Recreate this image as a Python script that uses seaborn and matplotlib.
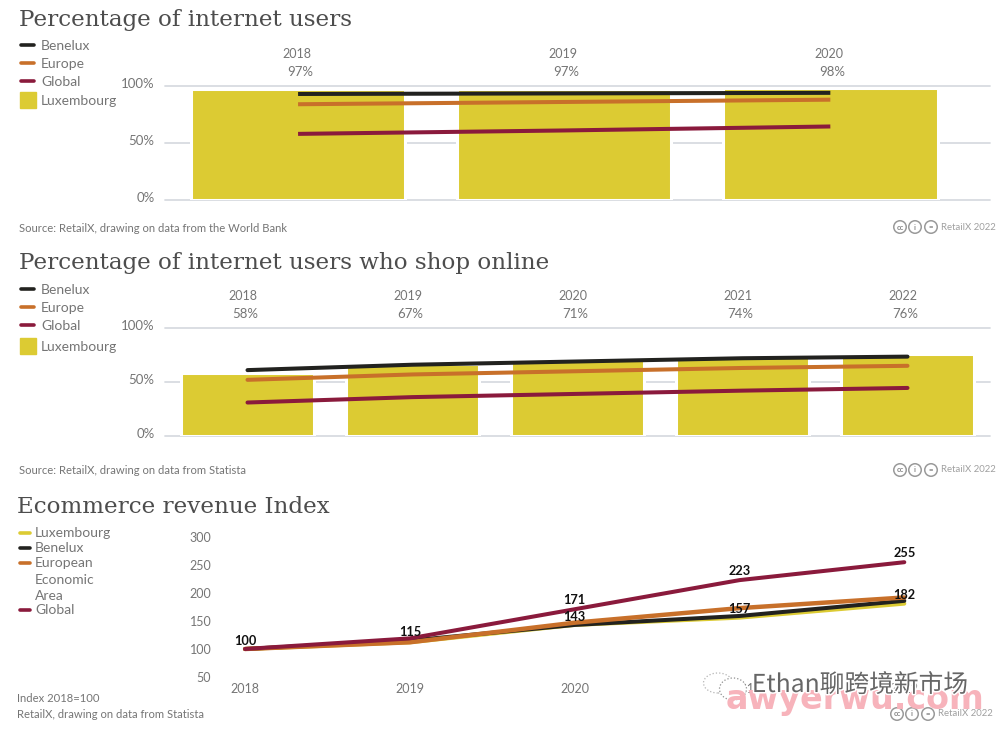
import matplotlib
matplotlib.use("Agg")
import matplotlib.pyplot as plt
import matplotlib.patheffects as pe
from matplotlib.patches import Ellipse, Rectangle
from matplotlib.transforms import ScaledTranslation
import pandas as pd
import seaborn as sns

SANS = ["Lato", "DejaVu Sans"]
SERIF = ["DejaVu Serif"]

YELLOW = "#dccb33"
BLACK = "#22221f"
ORANGE = "#c8702a"
RED = "#8a1a3c"
GREY = "#757575"
GRID = "#d8dbe0"
TITLE = "#4d4d4d"

# chart 1
users_years = ["2018", "2019", "2020"]
users_lux = [97, 97, 98]
users_benelux = [93, 93.5, 94]
users_europe = [84, 86, 88]
users_global = [58, 61, 64.5]

# chart 2
shop_years = ["2018", "2019", "2020", "2021", "2022"]
shop_lux = [58, 67, 71, 74, 76]
shop_benelux = [61, 66, 69, 72, 73.5]
shop_europe = [52, 57, 60, 63, 65]
shop_global = [31, 36, 39, 42, 44.5]

# chart 3
rev_years = ["2018", "2019", "2020", "2021", "2022"]
rev_lux = [100, 112, 143, 156, 181]
rev_benelux = [100, 115, 143, 159, 186]
rev_eea = [100, 112, 147, 173, 192]
rev_global = [100, 119, 171, 223, 255]
rev_labels = [(0, 100, 104), (1, 115, 119), (2, 171, 177), (2, 143, 146),
              (3, 223, 228), (3, 157, 161), (4, 255, 261), (4, 182, 185)]


def px_axes(fig, left, right, top, bottom):
    return fig.add_axes([left / 1000, 1 - bottom / 730, (right - left) / 1000, (bottom - top) / 730])


def ftext(fig, x, y, s, **kw):
    kw.setdefault("family", SANS)
    kw.setdefault("color", GREY)
    kw.setdefault("va", "center")
    return fig.text(x / 1000, 1 - y / 730, s, **kw)


def legend_key(fig, x0, x1, y, color, lw=2.6):
    fig.add_artist(plt.Line2D([x0 / 1000, x1 / 1000], [1 - y / 730] * 2, color=color, lw=lw, solid_capstyle="round"))


def bubble(fig, x, y, w, h, **kw):
    fig.add_artist(Ellipse((x / 1000, 1 - y / 730), w / 1000, h / 730, transform=fig.transFigure, **kw))


def bar_panel(fig, ax, years, lux, lines, xlim, cap, year_dx, pct_dx):
    df = pd.DataFrame({"year": years, "lux": lux})
    sns.barplot(data=df, x="year", y="lux", color=YELLOW, saturation=1, width=0.806, ax=ax, zorder=2,
                edgecolor="white", linewidth=2.2)
    for values, color in lines:
        sns.lineplot(x=list(range(len(years))), y=values, color=color, lw=2.9, ax=ax, zorder=3, errorbar=None,
                     solid_capstyle=cap)
    ax.set_xlim(*xlim)
    ax.set_ylim(0, 100)
    ax.set_yticks([0, 50, 100], ["0%", "50%", "100%"])
    ax.set_xticks([])
    ax.set_xlabel("")
    ax.set_ylabel("")
    ax.grid(axis="y", color=GRID, lw=1.3)
    for gl in ax.get_ygridlines():
        gl.set_clip_on(False)
    ax.set_axisbelow(True)
    ax.tick_params(axis="y", length=0, labelsize=9.5, labelcolor=GREY, pad=7.5)
    up = ScaledTranslation(0, 3 / 100, fig.dpi_scale_trans)
    for lab in ax.get_yticklabels():
        lab.set_family(SANS)
        lab.set_transform(lab.get_transform() + up)
    for side in ax.spines.values():
        side.set_visible(False)
    ax.patch.set_alpha(0)
    for i, (year, val) in enumerate(zip(years, lux)):
        ax.annotate(year, (i, 100), xytext=(year_dx, 23), textcoords="offset points", ha="center", va="center",
                    color=GREY, fontsize=9, family=SANS, annotation_clip=False)
        ax.annotate(f"{val}%", (i, 100), xytext=(pct_dx, 10), textcoords="offset points", ha="center", va="center",
                    color=GREY, fontsize=9.5, family=SANS, annotation_clip=False)


def cc_badge(fig, y, dx=0):
    for x, s in zip([900, 915, 931], ["cc", "i", "="]):
        bubble(fig, x + dx, y, 12.5, 12.5, fc="white", ec="#9a9a9a", lw=1.1)
        ftext(fig, x + dx, y, s, fontsize=5.5, ha="center", color="#8a8a8a", fontweight="bold")
    ftext(fig, 968 + dx, y, "RetailX 2022", fontsize=6.9, ha="center", color="#a0a0a0")


def main():
    sns.set_theme(style="white")
    plt.rcParams["font.family"] = SANS
    fig = plt.figure(figsize=(10, 7.3), dpi=100)

    # top panel
    ftext(fig, 19, 20, "Percentage of internet users", family=SERIF, fontsize=16.6, color=TITLE)
    for y, name, color in [(45, "Benelux", BLACK), (63, "Europe", ORANGE), (81, "Global", RED)]:
        legend_key(fig, 21, 34, y, color)
        ftext(fig, 41, y + 1, name, fontsize=10)
    fig.add_artist(Rectangle((20 / 1000, 1 - 108 / 730), 16 / 1000, 16 / 730, color=YELLOW, transform=fig.transFigure))
    ftext(fig, 41, 101, "Luxembourg", fontsize=10)
    ax1 = px_axes(fig, 165, 990, 86, 200)
    bar_panel(fig, ax1, users_years, users_lux,
              [(users_benelux, BLACK), (users_europe, ORANGE), (users_global, RED)], (-0.5, 2.6), "butt", -0.7, 1.5)
    ftext(fig, 19, 228, "Source: RetailX, drawing on data from the World Bank", fontsize=8.1)
    cc_badge(fig, 227)

    # middle panel
    ftext(fig, 19, 263, "Percentage of internet users who shop online", family=SERIF, fontsize=16.6, color=TITLE)
    for y, name, color in [(289, "Benelux", BLACK), (307, "Europe", ORANGE), (325, "Global", RED)]:
        legend_key(fig, 21, 34, y, color)
        ftext(fig, 41, y + 1, name, fontsize=10)
    fig.add_artist(Rectangle((20 / 1000, 1 - 354 / 730), 16 / 1000, 16 / 730, color=YELLOW, transform=fig.transFigure))
    ftext(fig, 41, 347, "Luxembourg", fontsize=10)
    ax2 = px_axes(fig, 165, 990, 328, 436)
    bar_panel(fig, ax2, shop_years, shop_lux,
              [(shop_benelux, BLACK), (shop_europe, ORANGE), (shop_global, RED)], (-0.5, 4.5), "round", -3.6, -1.5)
    ftext(fig, 19, 471, "Source: RetailX, drawing on data from Statista", fontsize=8.1)
    cc_badge(fig, 470)

    # bottom panel
    ftext(fig, 17, 507, "Ecommerce revenue Index", family=SERIF, fontsize=16.6, color=TITLE)
    for y, name, color in [(533, "Luxembourg", YELLOW), (548, "Benelux", BLACK), (563, "European", ORANGE), (610, "Global", RED)]:
        legend_key(fig, 20, 30, y, color)
        ftext(fig, 35, y, name, fontsize=10)
    ftext(fig, 35, 580, "Economic", fontsize=10)
    ftext(fig, 35, 596, "Area", fontsize=10)

    ax3 = px_axes(fig, 221, 990, 537, 677)
    x = list(range(len(rev_years)))
    for values, color, lw in [(rev_lux, YELLOW, 2.9), (rev_benelux, BLACK, 2.9), (rev_eea, ORANGE, 3.2), (rev_global, RED, 2.9)]:
        sns.lineplot(x=x, y=values, color=color, lw=lw, ax=ax3, errorbar=None, solid_capstyle="round")
    ax3.set_xlim(-0.146, 4.52)
    ax3.set_ylim(50, 300)
    ax3.set_yticks([50, 100, 150, 200, 250, 300])
    ax3.set_xticks(x, rev_years)
    ax3.tick_params(length=0, labelsize=9, labelcolor=GREY)
    ax3.tick_params(axis="x", pad=4)
    ax3.tick_params(axis="y", pad=7)
    for side in ax3.spines.values():
        side.set_visible(False)
    ax3.patch.set_alpha(0)
    for i, val, ypos in rev_labels:
        ax3.text(i, ypos, str(val), ha="center", va="bottom", fontsize=9.2, fontweight="bold", color="#111111", family=SANS)

    ftext(fig, 17, 699, "Index 2018=100", fontsize=8.1)
    ftext(fig, 17, 714, "RetailX, drawing on data from Statista", fontsize=8.1)
    cc_badge(fig, 714, dx=-3)

    # watermarks on the image
    bubble(fig, 718, 683, 29, 20, fc="white", ec="#b5b5b5", lw=0.9, ls=":")
    bubble(fig, 733, 689, 27, 22, fc="white", ec="#8f8f8f", lw=0.9, ls=":")
    ftext(fig, 855, 699, "awyerwu.com", fontsize=24, ha="center", color="#f7b3bb", fontweight="bold",
          family=["DejaVu Sans"])
    ftext(fig, 860, 685, "Ethan聊跨境新市场", fontsize=17.8, ha="center", color="#666666",
          family=["Noto Sans CJK SC", "DejaVu Sans"],
          path_effects=[pe.withStroke(linewidth=2.2, foreground="white")])

    fig.savefig("out.png", dpi=100)
    plt.close(fig)


if __name__ == "__main__":
    main()
